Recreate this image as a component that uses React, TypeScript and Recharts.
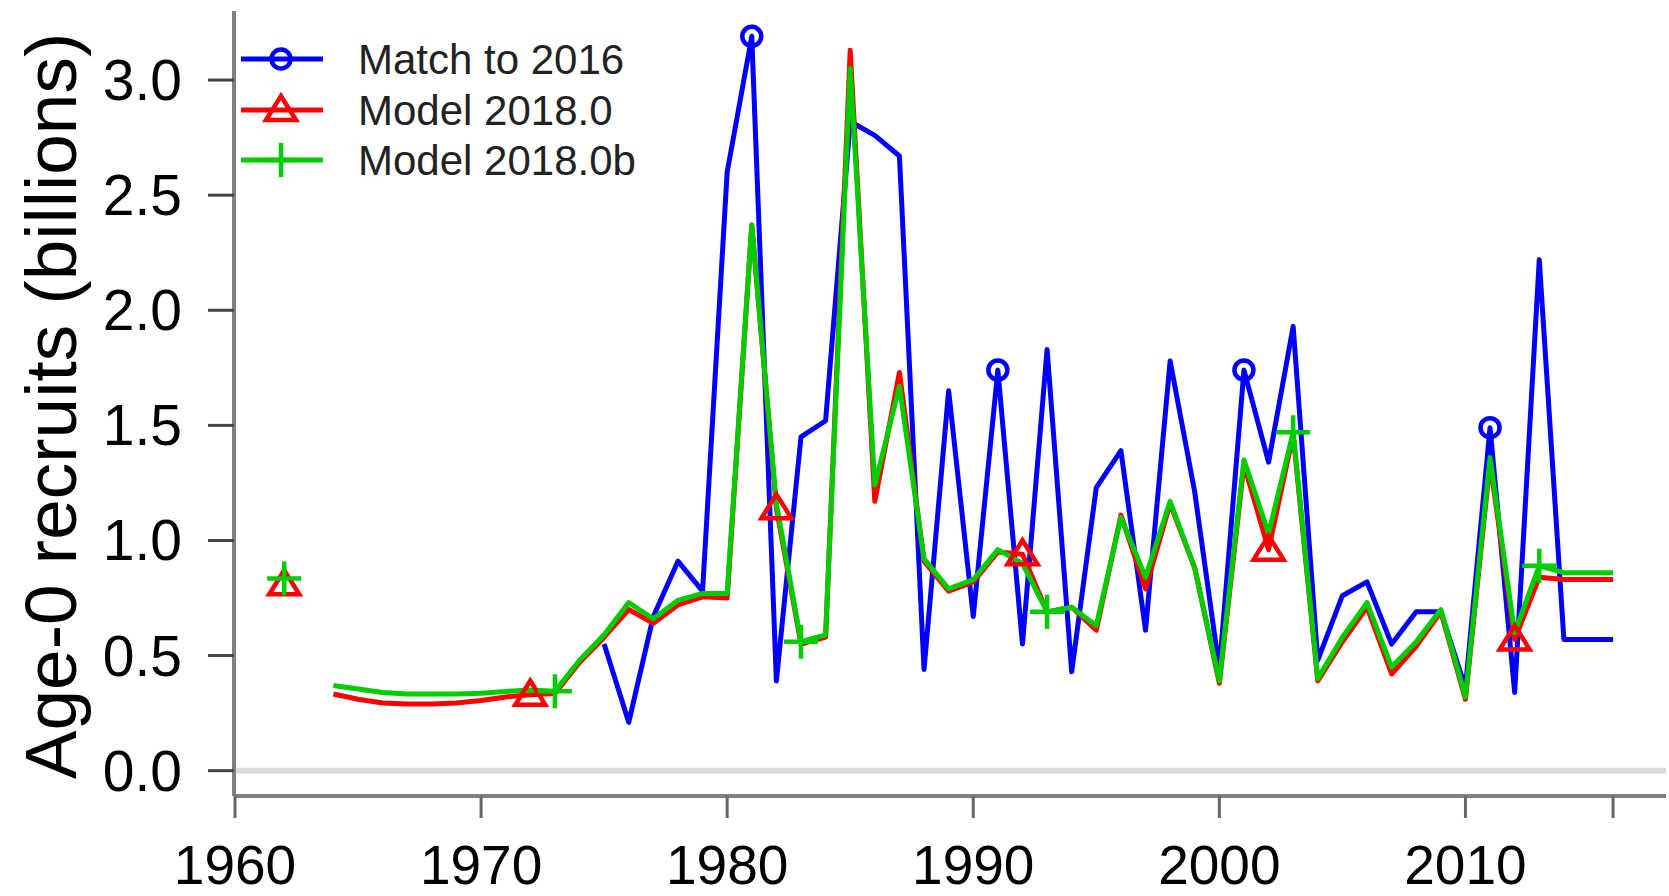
import React from 'react';
import { LineChart, Line, XAxis, YAxis, ReferenceLine } from 'recharts';

const years = [
  1962, 1963, 1964, 1965, 1966, 1967, 1968, 1969, 1970, 1971,
  1972, 1973, 1974, 1975, 1976, 1977, 1978, 1979, 1980, 1981,
  1982, 1983, 1984, 1985, 1986, 1987, 1988, 1989, 1990, 1991,
  1992, 1993, 1994, 1995, 1996, 1997, 1998, 1999, 2000, 2001,
  2002, 2003, 2004, 2005, 2006, 2007, 2008, 2009, 2010, 2011,
  2012, 2013, 2014, 2015, 2016,
];

const matchTo2016: (number | null)[] = [
  null, null, null, null, null, null, null, null, null, null,
  null, null, null, 0.55, 0.21, 0.67, 0.91, 0.78, 2.60, 3.19,
  0.39, 1.45, 1.52, 2.82, 2.76, 2.67, 0.44, 1.65, 0.67, 1.74,
  0.55, 1.83, 0.43, 1.23, 1.39, 0.61, 1.78, 1.21, 0.44, 1.74,
  1.34, 1.93, 0.48, 0.76, 0.82, 0.55, 0.69, 0.69, 0.36, 1.49,
  0.34, 2.22, 0.57, 0.57, 0.57,
];

const model2018_0: (number | null)[] = [
  0.81, null, 0.333, 0.31, 0.294, 0.29, 0.29, 0.294, 0.305, 0.32,
  0.33, 0.335, 0.47, 0.58, 0.70, 0.64, 0.72, 0.755, 0.75, 2.37,
  1.14, 0.55, 0.58, 3.13, 1.17, 1.73, 0.91, 0.78, 0.82, 0.95,
  0.94, 0.69, 0.71, 0.61, 1.11, 0.79, 1.16, 0.88, 0.38, 1.33,
  0.96, 1.46, 0.39, 0.56, 0.71, 0.42, 0.54, 0.69, 0.31, 1.34,
  0.57, 0.84, 0.83, 0.83, 0.83,
];

const model2018_0b: (number | null)[] = [
  0.835, null, 0.37, 0.355, 0.34, 0.333, 0.333, 0.333, 0.336, 0.344,
  0.35, 0.345, 0.48, 0.59, 0.73, 0.66, 0.74, 0.77, 0.77, 2.37,
  1.16, 0.56, 0.59, 3.05, 1.24, 1.67, 0.92, 0.79, 0.83, 0.96,
  0.90, 0.69, 0.71, 0.63, 1.10, 0.84, 1.17, 0.88, 0.39, 1.35,
  1.03, 1.47, 0.40, 0.58, 0.73, 0.45, 0.56, 0.70, 0.32, 1.36,
  0.60, 0.89, 0.86, 0.86, 0.86,
];

const seriesNames = ['Match to 2016', 'Model 2018.0', 'Model 2018.0b'];
const seriesColors = ['#0000ff', '#ff0000', '#00cd00'];

const blueMarkerYears = [1981, 1991, 2001, 2011];
const redMarkerYears = [1962, 1972, 1982, 1992, 2002, 2012];
const greenMarkerYears = [1962, 1973, 1983, 1993, 2003, 2013];

const xTicks = [1960, 1970, 1980, 1990, 2000, 2010, 2016];
const xTickLabels = ['1960', '1970', '1980', '1990', '2000', '2010', ''];
const yTicks = [0, 0.5, 1, 1.5, 2, 2.5, 3];
const yTickLabels = ['0.0', '0.5', '1.0', '1.5', '2.0', '2.5', '3.0'];

const yTitle = 'Age-0 recruits (billions)';

const data = years.map((year, i) => ({
  year,
  blue: matchTo2016[i],
  red: model2018_0[i],
  green: model2018_0b[i],
}));

const FONT = '"Liberation Sans", Arial, sans-serif';
const LW = 5;
const MW = 4.5;

function circleMark(cx: number, cy: number, color: string, key?: any) {
  return <circle key={key} cx={cx} cy={cy} r={9.5} fill="none" stroke={color} strokeWidth={MW} />;
}
function triMark(cx: number, cy: number, color: string, key?: any) {
  return (
    <polygon
      key={key}
      points={`${cx},${cy - 14} ${cx - 15},${cy + 10} ${cx + 15},${cy + 10}`}
      fill="none"
      stroke={color}
      strokeWidth={MW}
      strokeLinejoin="miter"
    />
  );
}
function plusMark(cx: number, cy: number, color: string, key?: any) {
  return (
    <g key={key}>
      <line x1={cx - 17} y1={cy} x2={cx + 17} y2={cy} stroke={color} strokeWidth={MW} />
      <line x1={cx} y1={cy - 17} x2={cx} y2={cy + 17} stroke={color} strokeWidth={MW} />
    </g>
  );
}

function makeDot(yearsWithMarks: number[], kind: 'c' | 't' | 'p', color: string) {
  return (props: any) => {
    const { cx, cy, payload, index } = props;
    const k = `${kind}-${index}`;
    if (cx == null || cy == null || !payload || !yearsWithMarks.includes(payload.year)) {
      return <g key={k} />;
    }
    if (kind === 'c') return circleMark(cx, cy, color, k);
    if (kind === 't') return triMark(cx, cy, color, k);
    return plusMark(cx, cy, color, k);
  };
}

const XTick = (props: any) => {
  const { x, payload } = props;
  const i = xTicks.indexOf(payload.value);
  const label = i >= 0 ? xTickLabels[i] : '';
  return (
    <text x={x} y={884} textAnchor="middle" fontSize={55} fontFamily={FONT} fill="#000">
      {label}
    </text>
  );
};

const YTick = (props: any) => {
  const { y, payload } = props;
  const i = yTicks.indexOf(payload.value);
  const label = i >= 0 ? yTickLabels[i] : '';
  return (
    <text x={182} y={y + 20} textAnchor="end" fontSize={57} fontFamily={FONT} fill="#000">
      {label}
    </text>
  );
};

export default function App() {
  const legendRows = [59, 110, 160];
  return (
    <div style={{ position: 'absolute', left: 0, top: 0, width: 1669, height: 896, background: '#fff' }}>
      <LineChart
        width={1669}
        height={896}
        data={data}
        margin={{ top: 11, right: 3, left: 0, bottom: 0 }}
      >
        <XAxis
          dataKey="year"
          type="number"
          domain={[1959.96, 2018.15]}
          ticks={xTicks}
          allowDataOverflow
          height={100}
          tickSize={22}
          tickLine={{ stroke: '#666', strokeWidth: 3 }}
          axisLine={{ stroke: '#808080', strokeWidth: 4 }}
          tick={<XTick />}
          interval={0}
        />
        <YAxis
          type="number"
          domain={[-0.11, 3.3]}
          ticks={yTicks}
          allowDataOverflow
          width={234}
          tickSize={26}
          tickLine={{ stroke: '#444', strokeWidth: 3 }}
          axisLine={{ stroke: '#808080', strokeWidth: 4 }}
          tick={<YTick />}
          interval={0}
        />
        <ReferenceLine y={0} stroke="#dcdcdc" strokeWidth={6} />
        <Line
          dataKey="blue"
          stroke={seriesColors[0]}
          strokeWidth={LW}
          strokeLinejoin="round"
          dot={makeDot(blueMarkerYears, 'c', seriesColors[0])}
          activeDot={false}
          isAnimationActive={false}
          connectNulls={false}
        />
        <Line
          dataKey="red"
          stroke={seriesColors[1]}
          strokeWidth={LW}
          strokeLinejoin="round"
          dot={makeDot(redMarkerYears, 't', seriesColors[1])}
          activeDot={false}
          isAnimationActive={false}
          connectNulls={false}
        />
        <Line
          dataKey="green"
          stroke={seriesColors[2]}
          strokeWidth={LW}
          strokeLinejoin="round"
          dot={makeDot(greenMarkerYears, 'p', seriesColors[2])}
          activeDot={false}
          isAnimationActive={false}
          connectNulls={false}
        />
      </LineChart>
      <svg
        width={1669}
        height={896}
        style={{ position: 'absolute', left: 0, top: 0, pointerEvents: 'none' }}
      >
        <text
          transform="translate(50,406) rotate(-90)"
          textAnchor="middle"
          dominantBaseline="central"
          fontSize={73}
          fontFamily={FONT}
          fill="#000"
        >
          {yTitle}
        </text>
        {legendRows.map((ry, i) => (
          <g key={i}>
            <line x1={241} y1={ry} x2={323} y2={ry} stroke={seriesColors[i]} strokeWidth={LW} />
            {i === 0 && circleMark(281, ry, seriesColors[0])}
            {i === 1 && triMark(281, ry, seriesColors[1])}
            {i === 2 && plusMark(281, ry, seriesColors[2])}
            <text x={358} y={ry + 15} fontSize={42} fontFamily={FONT} fill="#222">
              {seriesNames[i]}
            </text>
          </g>
        ))}
      </svg>
    </div>
  );
}
